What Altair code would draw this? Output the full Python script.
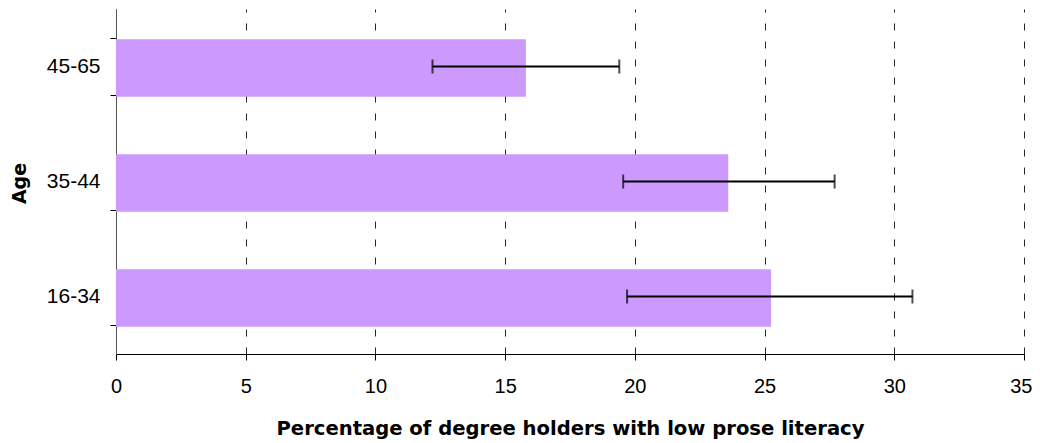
import altair as alt
import pandas as pd

ages = ["45-65", "35-44", "16-34"]
values = [15.8, 23.6, 25.25]
err_low = [12.2, 19.55, 19.7]
err_high = [19.4, 27.7, 30.7]
x_ticks = [0, 5, 10, 15, 20, 25, 30, 35]

df = pd.DataFrame({"age": ages, "value": values, "lo": err_low, "hi": err_high})

y_enc = alt.Y(
    "age:N",
    sort=ages,
    scale=alt.Scale(paddingInner=0.5, paddingOuter=0.25),
    axis=alt.Axis(
        title="Age",
        tickBand="extent",
        tickSize=6,
        tickColor="#000000",
        domainColor="#555555",
        labelFont="Liberation Sans",
        labelFontSize=21,
        labelColor="#000000",
        labelPadding=10,
        titleFont="DejaVu Sans",
        titleFontWeight="bold",
        titleFontSize=19,
        titleColor="#000000",
        titleAngle=-90,
        titleBaseline="middle",
        titleAlign="center",
        titleX=-97,
        titleY=174,
        grid=False,
    ),
)

x_scale = alt.Scale(domain=[0, 35], nice=False)

bars = alt.Chart(df).mark_bar(color="#CC99FF", yOffset=1.5).encode(
    x=alt.X(
        "value:Q",
        scale=x_scale,
        axis=alt.Axis(
            values=x_ticks,
            title="Percentage of degree holders with low prose literacy",
            grid=True,
            gridDash=[7, 11],
            gridColor="#000000",
            gridOpacity=0.85,
            gridWidth=1,
            tickSize=6,
            tickColor="#000000",
            domainColor="#000000",
            labelFont="Liberation Sans",
            labelFontSize=20,
            labelColor="#000000",
            labelPadding=16,
            labelFlush=False,
            labelAlign=alt.ExprRef("datum.value == 35 ? 'right' : 'center'"),
            labelOffset=alt.ExprRef("datum.value == 35 ? 8 : 0"),
            titleFont="DejaVu Sans",
            titleFontWeight="bold",
            titleFontSize=19.6,
            titleColor="#000000",
            titleBaseline="middle",
            titleY=74,
        ),
    ),
    y=y_enc,
)

rules = alt.Chart(df).mark_rule(color="#000000", strokeWidth=2).encode(
    x=alt.X("lo:Q", scale=x_scale),
    x2="hi:Q",
    y=alt.Y("age:N", sort=ages),
)

caps_lo = alt.Chart(df).mark_tick(color="#000000", thickness=2, size=14, orient="vertical").encode(
    x=alt.X("lo:Q", scale=x_scale),
    y=alt.Y("age:N", sort=ages),
)
caps_hi = alt.Chart(df).mark_tick(color="#000000", thickness=2, size=14, orient="vertical").encode(
    x=alt.X("hi:Q", scale=x_scale),
    y=alt.Y("age:N", sort=ages),
)

chart = alt.layer(bars, rules, caps_lo, caps_hi).properties(
    width=908,
    height=345,
    autosize=alt.AutoSizeParams(type="none"),
    padding={"left": 108, "top": 1, "right": 8, "bottom": 89},
).configure_view(stroke=None)

chart.save("out.html", embed_options={"renderer": "svg", "actions": False})
